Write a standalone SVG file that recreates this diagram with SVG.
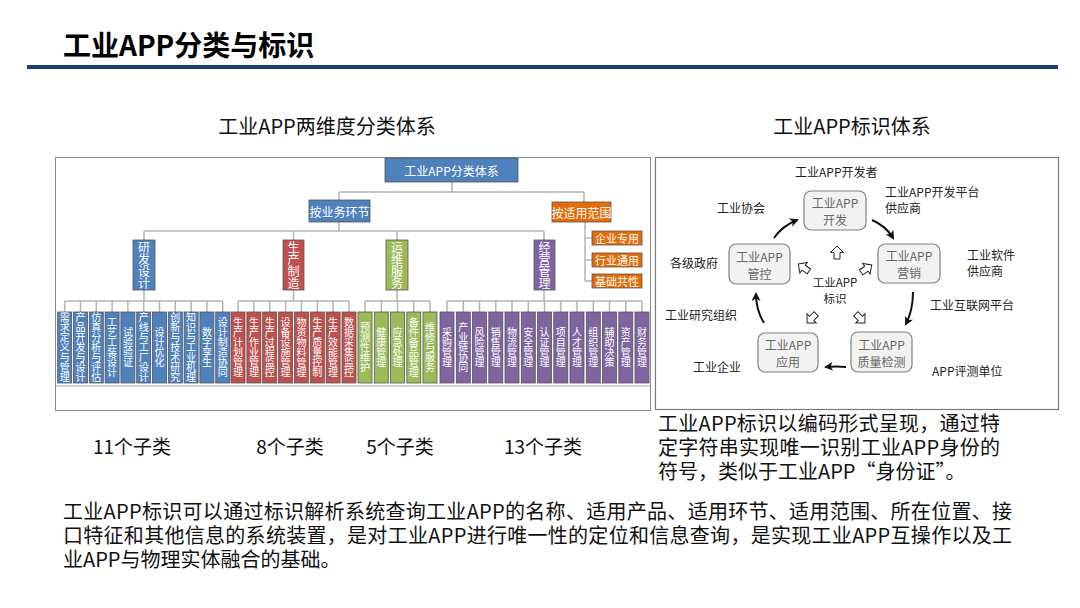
<svg xmlns="http://www.w3.org/2000/svg" width="1080" height="608" viewBox="0 0 1080 608">
<defs>
<style>
text{font-family:"Noto Sans CJK SC","Noto Sans",sans-serif}
.conn{stroke:#b4b4b4;stroke-width:1.5;fill:none}
.bx{stroke:#555;stroke-width:0.8}
.blue{fill:#4f81bd}
.red{fill:#c0504d}
.green{fill:#9bbb59}
.purple{fill:#8064a2}
.orange{fill:#e46c0a}
.wt{fill:#fff;font-size:12px;text-anchor:middle;dominant-baseline:central}
.ot{fill:#fff;font-size:11px;text-anchor:middle;dominant-baseline:central}
.vt{fill:#fff;font-size:12px;writing-mode:vertical-rl;text-anchor:middle}
.lt{fill:#fff;font-size:10px;writing-mode:vertical-rl;text-anchor:middle}
.lbl{fill:#222;font-size:12px;dominant-baseline:central}
.cl{fill:#222;font-size:11.5px;text-anchor:middle;dominant-baseline:central}
.rb{fill:#f2f2f2;stroke:#808080;stroke-width:1.2}
.rt{fill:#666;font-size:12px;text-anchor:middle;dominant-baseline:central}
.arr{stroke:#111;stroke-width:2;fill:none;marker-end:url(#ah)}
.ho{fill:#fff;stroke:#222;stroke-width:1}
.big{fill:#111;font-size:20px}
.sub{fill:#111;font-size:19px;text-anchor:middle;dominant-baseline:central}
</style>
<marker id="ah" markerUnits="userSpaceOnUse" markerWidth="9" markerHeight="9" refX="7" refY="4.5" orient="auto">
<path d="M0,0 L9,4.5 L0,9 L2.5,4.5 Z" fill="#111"/>
</marker>
<path id="hol" d="M0,-7 L6.5,-0.5 L3,-0.5 L3,6 L-3,6 L-3,-0.5 L-6.5,-0.5 Z"/>
</defs>
<rect width="1080" height="608" fill="#fff"/>

<g id="title">
<text x="63" y="56" font-size="28" font-weight="bold" fill="#000">工业APP分类与标识</text>
<rect x="27" y="65" width="1031" height="4" fill="#1f3c74"/>
</g>

<g id="headers">
<text x="327" y="134" class="big" text-anchor="middle">工业APP两维度分类体系</text>
<text x="852" y="134" class="big" text-anchor="middle">工业APP标识体系</text>
</g>

<g id="panels">
<rect x="55.5" y="157.5" width="595" height="253" fill="none" stroke="#8a8a8a" stroke-width="1"/>
<rect x="655.5" y="157.5" width="403" height="252" fill="none" stroke="#7a7a7a" stroke-width="1.2"/>
<line x1="56" y1="386" x2="650" y2="386" stroke="#a8a8a8" stroke-width="1.2"/>
</g>

<g id="connectors">
<path class="conn" d="M452,182 V192 M339,192 H584 M339,192 V200 M584,192 V202"/>
<path class="conn" d="M339,222 V231 M144,231 H544 M144,231 V240 M293.5,231 V240 M397,231 V240 M544,231 V240"/>
<path class="conn" d="M585,222 V281 M585,238 H592 M585,260 H592 M585,281 H592"/>
<path class="conn" d="M144,290 V301 M64.7,301 H222.7 M64.7,301 V312 M80.5,301 V312 M96.3,301 V312 M112.1,301 V312 M127.9,301 V312 M143.7,301 V312 M159.5,301 V312 M175.3,301 V312 M191.1,301 V312 M206.9,301 V312 M222.7,301 V312"/>
<path class="conn" d="M293.5,290 V301 M238,301 H349 M238,301 V312 M253.9,301 V312 M269.7,301 V312 M285.6,301 V312 M301.4,301 V312 M317.3,301 V312 M333.1,301 V312 M349,301 V312"/>
<path class="conn" d="M397,290 V301 M365,301 H430 M365,301 V312 M381.3,301 V312 M397.5,301 V312 M413.8,301 V312 M430,301 V312"/>
<path class="conn" d="M544,290 V301 M447,301 H642 M447,301 V312 M463.3,301 V312 M479.5,301 V312 M495.8,301 V312 M512,301 V312 M528.3,301 V312 M544.5,301 V312 M560.8,301 V312 M577,301 V312 M593.3,301 V312 M609.5,301 V312 M625.8,301 V312 M642,301 V312"/>
<path class="arr" d="M774,238 Q782,226 797,220"/>
<path class="arr" d="M872,220 Q886,226 893,238"/>
<path class="arr" d="M913,292 Q913,310 906,324"/>
<path class="arr" d="M846,367 Q836,366 826,367"/>
<path class="arr" d="M764,323 Q756,310 756,294"/>
<use href="#hol" class="ho" transform="translate(837,253)"/>
<use href="#hol" class="ho" transform="translate(804,268) rotate(-55)"/>
<use href="#hol" class="ho" transform="translate(866,269) rotate(55)"/>
<use href="#hol" class="ho" transform="translate(812,318) rotate(-135)"/>
<use href="#hol" class="ho" transform="translate(860,318) rotate(135)"/>
</g>

<g id="root"><rect class="bx blue" x="385" y="158" width="133" height="24"/><text class="wt" x="451.5" y="170">工业APP分类体系</text></g>
<g id="n-yewu"><rect class="bx blue" x="309" y="200" width="61" height="22"/><text class="wt" x="339.5" y="211">按业务环节</text></g>
<g id="n-fanwei"><rect class="bx orange" x="552" y="202" width="59" height="20"/><text class="wt" x="581.5" y="212">按适用范围</text></g>
<g id="n-qiye"><rect class="bx orange" x="592" y="231" width="50" height="14"/><text class="ot" x="617" y="238">企业专用</text></g>
<g id="n-hangye"><rect class="bx orange" x="592" y="253" width="50" height="14"/><text class="ot" x="617" y="260">行业通用</text></g>
<g id="n-jichu"><rect class="bx orange" x="592" y="274" width="50" height="14"/><text class="ot" x="617" y="281">基础共性</text></g>

<g id="c-yanfa"><rect class="bx blue" x="133" y="240" width="22" height="50"/><text class="vt" x="144" y="265">研发设计</text></g>
<g id="c-shengchan"><rect class="bx red" x="283" y="240" width="21" height="50"/><text class="vt" x="293.5" y="265">生产制造</text></g>
<g id="c-yunwei"><rect class="bx green" x="386" y="240" width="22" height="50"/><text class="vt" x="397" y="265">运维服务</text></g>
<g id="c-jingying"><rect class="bx purple" x="534" y="240" width="21" height="50"/><text class="vt" x="544.5" y="265">经营管理</text></g>

<g id="l-b1"><rect class="bx blue" x="57.7" y="312" width="14" height="71"/><text class="lt" x="64.7" y="347.5">需求定义与管理</text></g>
<g id="l-b2"><rect class="bx blue" x="73.5" y="312" width="14" height="71"/><text class="lt" x="80.5" y="347.5">产品开发与设计</text></g>
<g id="l-b3"><rect class="bx blue" x="89.3" y="312" width="14" height="71"/><text class="lt" x="96.3" y="347.5">仿真分析与评估</text></g>
<g id="l-b4"><rect class="bx blue" x="105.1" y="312" width="14" height="71"/><text class="lt" x="112.1" y="347.5">工艺工装设计</text></g>
<g id="l-b5"><rect class="bx blue" x="120.9" y="312" width="14" height="71"/><text class="lt" x="127.9" y="347.5">试验验证</text></g>
<g id="l-b6"><rect class="bx blue" x="136.7" y="312" width="14" height="71"/><text class="lt" x="143.7" y="347.5">产线与工厂设计</text></g>
<g id="l-b7"><rect class="bx blue" x="152.5" y="312" width="14" height="71"/><text class="lt" x="159.5" y="347.5">设计优化</text></g>
<g id="l-b8"><rect class="bx blue" x="168.3" y="312" width="14" height="71"/><text class="lt" x="175.3" y="347.5">创新与技术研究</text></g>
<g id="l-b9"><rect class="bx blue" x="184.1" y="312" width="14" height="71"/><text class="lt" x="191.1" y="347.5">知识与工业机理</text></g>
<g id="l-b10"><rect class="bx blue" x="199.9" y="312" width="14" height="71"/><text class="lt" x="206.9" y="347.5">数字孪生</text></g>
<g id="l-b11"><rect class="bx blue" x="215.7" y="312" width="14" height="71"/><text class="lt" x="222.7" y="347.5">设计制造协同</text></g>

<g id="l-r1"><rect class="bx red" x="231" y="312" width="14" height="71"/><text class="lt" x="238" y="347.5">生产计划管理</text></g>
<g id="l-r2"><rect class="bx red" x="246.9" y="312" width="14" height="71"/><text class="lt" x="253.9" y="347.5">生产作业管理</text></g>
<g id="l-r3"><rect class="bx red" x="262.7" y="312" width="14" height="71"/><text class="lt" x="269.7" y="347.5">生产过程监控</text></g>
<g id="l-r4"><rect class="bx red" x="278.6" y="312" width="14" height="71"/><text class="lt" x="285.6" y="347.5">设备设施管理</text></g>
<g id="l-r5"><rect class="bx red" x="294.4" y="312" width="14" height="71"/><text class="lt" x="301.4" y="347.5">物资物料管理</text></g>
<g id="l-r6"><rect class="bx red" x="310.3" y="312" width="14" height="71"/><text class="lt" x="317.3" y="347.5">生产质量控制</text></g>
<g id="l-r7"><rect class="bx red" x="326.1" y="312" width="14" height="71"/><text class="lt" x="333.1" y="347.5">生产效能管理</text></g>
<g id="l-r8"><rect class="bx red" x="342" y="312" width="14" height="71"/><text class="lt" x="349" y="347.5">数据采集监控</text></g>

<g id="l-g1"><rect class="bx green" x="358" y="312" width="14" height="71"/><text class="lt" x="365" y="347.5">预测性维护</text></g>
<g id="l-g2"><rect class="bx green" x="374.3" y="312" width="14" height="71"/><text class="lt" x="381.3" y="347.5">健康管理</text></g>
<g id="l-g3"><rect class="bx green" x="390.5" y="312" width="14" height="71"/><text class="lt" x="397.5" y="347.5">应急处理</text></g>
<g id="l-g4"><rect class="bx green" x="406.8" y="312" width="14" height="71"/><text class="lt" x="413.8" y="347.5">备件备品管理</text></g>
<g id="l-g5"><rect class="bx green" x="423" y="312" width="14" height="71"/><text class="lt" x="430" y="347.5">维修与服务</text></g>

<g id="l-p1"><rect class="bx purple" x="440" y="312" width="14" height="71"/><text class="lt" x="447" y="347.5">采购管理</text></g>
<g id="l-p2"><rect class="bx purple" x="456.3" y="312" width="14" height="71"/><text class="lt" x="463.3" y="347.5">产业链协同</text></g>
<g id="l-p3"><rect class="bx purple" x="472.5" y="312" width="14" height="71"/><text class="lt" x="479.5" y="347.5">风险管理</text></g>
<g id="l-p4"><rect class="bx purple" x="488.8" y="312" width="14" height="71"/><text class="lt" x="495.8" y="347.5">销售管理</text></g>
<g id="l-p5"><rect class="bx purple" x="505" y="312" width="14" height="71"/><text class="lt" x="512" y="347.5">物流管理</text></g>
<g id="l-p6"><rect class="bx purple" x="521.3" y="312" width="14" height="71"/><text class="lt" x="528.3" y="347.5">安全管理</text></g>
<g id="l-p7"><rect class="bx purple" x="537.5" y="312" width="14" height="71"/><text class="lt" x="544.5" y="347.5">认证管理</text></g>
<g id="l-p8"><rect class="bx purple" x="553.8" y="312" width="14" height="71"/><text class="lt" x="560.8" y="347.5">项目管理</text></g>
<g id="l-p9"><rect class="bx purple" x="570" y="312" width="14" height="71"/><text class="lt" x="577" y="347.5">人才管理</text></g>
<g id="l-p10"><rect class="bx purple" x="586.3" y="312" width="14" height="71"/><text class="lt" x="593.3" y="347.5">组织管理</text></g>
<g id="l-p11"><rect class="bx purple" x="602.5" y="312" width="14" height="71"/><text class="lt" x="609.5" y="347.5">辅助决策</text></g>
<g id="l-p12"><rect class="bx purple" x="618.8" y="312" width="14" height="71"/><text class="lt" x="625.8" y="347.5">资产管理</text></g>
<g id="l-p13"><rect class="bx purple" x="635" y="312" width="14" height="71"/><text class="lt" x="642" y="347.5">财务管理</text></g>

<g id="counts">
<text class="sub" x="132" y="445">11个子类</text>
<text class="sub" x="290" y="445">8个子类</text>
<text class="sub" x="400" y="445">5个子类</text>
<text class="sub" x="543" y="445">13个子类</text>
</g>

<g id="r-kaifa"><rect class="rb" x="804" y="191" width="62" height="39" rx="7"/><text class="rt" x="835" y="202">工业APP</text><text class="rt" x="835" y="219">开发</text></g>
<g id="r-guankong"><rect class="rb" x="729" y="244" width="61" height="40" rx="7"/><text class="rt" x="759.5" y="256">工业APP</text><text class="rt" x="759.5" y="273">管控</text></g>
<g id="r-yingxiao"><rect class="rb" x="878" y="244" width="62" height="39" rx="7"/><text class="rt" x="909" y="255">工业APP</text><text class="rt" x="909" y="272">营销</text></g>
<g id="r-yingyong"><rect class="rb" x="758" y="333" width="60" height="39" rx="7"/><text class="rt" x="788" y="344">工业APP</text><text class="rt" x="788" y="361">应用</text></g>
<g id="r-zhiliang"><rect class="rb" x="851" y="332" width="61" height="40" rx="7"/><text class="rt" x="881.5" y="344">工业APP</text><text class="rt" x="881.5" y="361">质量检测</text></g>
<g id="r-center"><text class="cl" x="835" y="282">工业APP</text><text class="cl" x="835" y="298">标识</text></g>

<g id="r-labels">
<text class="lbl" x="795" y="171">工业APP开发者</text>
<text class="lbl" x="717" y="207">工业协会</text>
<text class="lbl" x="670" y="262">各级政府</text>
<text class="lbl" x="885" y="191">工业APP开发平台</text>
<text class="lbl" x="885" y="207">供应商</text>
<text class="lbl" x="967" y="254">工业软件</text>
<text class="lbl" x="967" y="270">供应商</text>
<text class="lbl" x="930" y="304">工业互联网平台</text>
<text class="lbl" x="932" y="370">APP评测单位</text>
<text class="lbl" x="665" y="314">工业研究组织</text>
<text class="lbl" x="693" y="366">工业企业</text>
</g>

<g id="caption">
<text class="big" x="658" y="431" textLength="342" lengthAdjust="spacing">工业APP标识以编码形式呈现，通过特</text>
<text class="big" x="658" y="455" textLength="342" lengthAdjust="spacing">定字符串实现唯一识别工业APP身份的</text>
<text class="big" x="658" y="479">符号，类似于工业APP“身份证”。</text>
</g>

<g id="paragraph">
<text class="big" x="63" y="519" textLength="949" lengthAdjust="spacing">工业APP标识可以通过标识解析系统查询工业APP的名称、适用产品、适用环节、适用范围、所在位置、接</text>
<text class="big" x="63" y="543" textLength="949" lengthAdjust="spacing">口特征和其他信息的系统装置，是对工业APP进行唯一性的定位和信息查询，是实现工业APP互操作以及工</text>
<text class="big" x="63" y="567">业APP与物理实体融合的基础。</text>
</g>
</svg>
